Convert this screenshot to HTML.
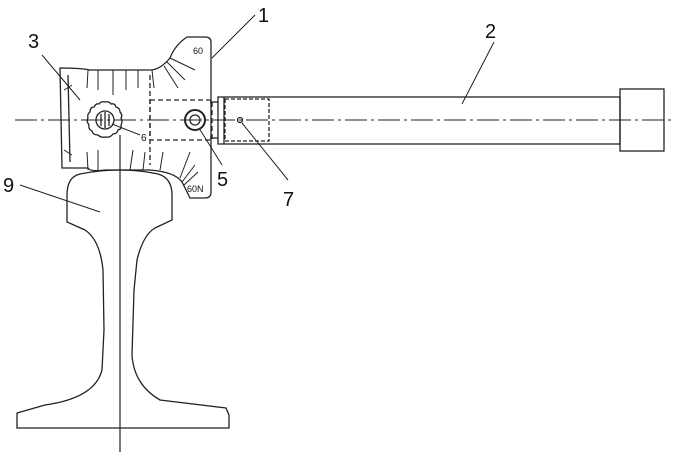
<!DOCTYPE html>
<html><head><meta charset="utf-8"><style>body{margin:0;background:#fff}svg{display:block}</style></head>
<body>
<svg width="677" height="455" viewBox="0 0 677 455" xmlns="http://www.w3.org/2000/svg" font-family="Liberation Sans, sans-serif">
<g fill="none" stroke="#222" stroke-width="1.3">
<line x1="15" y1="120" x2="672" y2="120" stroke-dasharray="22,4,3,4" stroke-width="1"/>
<line x1="120" y1="135" x2="120" y2="452" stroke-width="1.2"/>
<rect x="218" y="97" width="402" height="47"/>
<line x1="224" y1="97" x2="224" y2="144"/>
<rect x="620" y="89" width="44" height="62"/>
<rect x="225" y="99" width="44" height="42" stroke-dasharray="4,2"/>
<circle cx="240" cy="120" r="2.5"/>
<line x1="210" y1="102" x2="218" y2="102"/><line x1="210" y1="138" x2="218" y2="138"/>
<path d="M60 68 L62 168 L88 168 Q90 172 105 170 L150 170 Q175 172 182 182 L190 198 L205 198 Q211 198 211 192 L211 42 Q211 37 205 37 L187 37 Q175 45 170 58 Q160 70 150 70 L90 70 Q80 68 60 68 Z"/>
<path d="M68 75 L70 162" />
<rect x="150" y="100" width="62" height="40" stroke-dasharray="5,3"/>
<line x1="150" y1="75" x2="150" y2="165" stroke-dasharray="5,3"/>
<!-- scalloped knob -->
<path d="M105 102 Q109 101 111 104 Q115 103 116 107 Q120 108 120 112 Q123 115 121 118 Q123 121 121 125 Q122 129 118 130 Q117 134 113 134 Q110 138 105 137 Q101 138 98 135 Q93 135 92 131 Q88 129 89 125 Q86 121 88 118 Q87 114 90 112 Q90 107 94 107 Q96 103 99 104 Q101 101 105 102 Z"/>
<circle cx="105" cy="120" r="9"/>
<line x1="101" y1="114" x2="101" y2="126"/><line x1="105" y1="112" x2="105" y2="128"/><line x1="109" y1="114" x2="109" y2="126"/>
<circle cx="195" cy="120" r="10" stroke-width="2"/>
<circle cx="195" cy="120" r="5"/>
<g stroke-width="1">
<line x1="88" y1="70" x2="87" y2="88"/><line x1="98" y1="70" x2="98" y2="90"/><line x1="113" y1="70" x2="113" y2="95"/><line x1="126" y1="70" x2="126" y2="90"/><line x1="138" y1="70" x2="138" y2="88"/><line x1="152" y1="70" x2="154" y2="88"/>
<line x1="170" y1="58" x2="195" y2="70"/><line x1="167" y1="62" x2="185" y2="80"/><line x1="164" y1="66" x2="178" y2="88"/>
<line x1="88" y1="170" x2="87" y2="152"/><line x1="98" y1="170" x2="98" y2="150"/><line x1="120" y1="170" x2="120" y2="145"/><line x1="130" y1="170" x2="133" y2="150"/><line x1="143" y1="170" x2="145" y2="152"/><line x1="160" y1="170" x2="163" y2="152"/>
<line x1="180" y1="178" x2="190" y2="152"/><line x1="182" y1="182" x2="195" y2="165"/><line x1="184" y1="185" x2="198" y2="172"/>
<line x1="64" y1="90" x2="72" y2="85"/><line x1="64" y1="150" x2="72" y2="155"/>
</g>
<path d="M67 222 L67 195 Q67 177 80 174 Q120 166 158 174 Q172 178 172 195 L172 220 L155 228 Q143 235 137 260 L134 290 L132 355 Q134 385 160 400 L226 408 L229 415 L229 428 L17 428 L17 413 L45 405 Q95 398 102 370 L104 330 L103 270 Q100 240 85 230 Z"/>
<g stroke-width="1">
<line x1="212" y1="58" x2="255" y2="15"/>
<line x1="462" y1="104" x2="494" y2="42"/>
<line x1="42" y1="55" x2="80" y2="100"/>
<line x1="20" y1="185" x2="100" y2="212"/>
<line x1="199" y1="128" x2="222" y2="165"/>
<line x1="242" y1="123" x2="288" y2="180"/>
<line x1="112" y1="124" x2="140" y2="135"/>
</g>
</g>
<g fill="#111" font-size="20">
<text x="258" y="22">1</text>
<text x="485" y="38">2</text>
<text x="28" y="48">3</text>
<text x="3" y="192">9</text>
<text x="217" y="186">5</text>
<text x="283" y="206">7</text>
<text x="141" y="141" font-size="10">6</text>
<text x="193" y="54" font-size="9">60</text>
<text x="187" y="192" font-size="9">60N</text>
</g>
</svg>
</body></html>
